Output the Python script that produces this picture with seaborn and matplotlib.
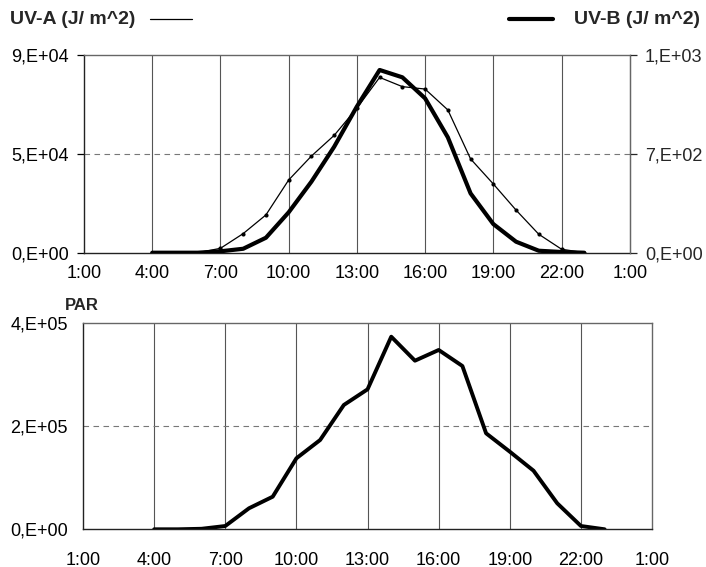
"""
Daily course of UV-A, UV-B and PAR irradiance (hourly sums)
"""
import numpy as np
import pandas as pd
import matplotlib
matplotlib.use('Agg')
import matplotlib.pyplot as plt
from matplotlib.lines import Line2D
import seaborn as sns

sns.set_style('white')
plt.rcParams['font.family'] = ['Liberation Sans', 'DejaVu Sans']

# data (hour of day, hourly values)
hours = [4, 5, 6, 7, 8, 9, 10, 11, 12, 13, 14, 15, 16, 17, 18, 19, 20, 21, 22, 23]
uva = [0, 0, 0, 2000, 8700, 17200, 33100, 44000, 53400, 65800, 79800, 75600,
       74500, 65000, 42700, 31300, 19400, 8400, 1600, 0]
uvb = [0, 0, 0, 10, 28, 106, 286, 503, 750, 1035, 1294, 1242,
       1093, 817, 420, 203, 78, 14, 5, 0]
par = [0, 0, 1000, 6400, 40800, 63300, 137900, 173400, 241400, 271800, 374000, 327400,
       348200, 317100, 186400, 150700, 113800, 50500, 6400, 0]

xticks = [1, 4, 7, 10, 13, 16, 19, 22, 25]
xticklabels = ['1:00', '4:00', '7:00', '10:00', '13:00', '16:00', '19:00', '22:00', '1:00']
uva_ticks = [0, 45000, 90000]
uva_labels = ['0,E+00', '5,E+04', '9,E+04']
uvb_ticks = [0, 700, 1400]
uvb_labels = ['0,E+00', '7,E+02', '1,E+03']
par_ticks = [0, 200000, 400000]
par_labels = ['0,E+00', '2,E+05', '4,E+05']

df = pd.DataFrame({'hour': hours, 'uva': uva, 'uvb': uvb, 'par': par})

fig = plt.figure(figsize=(7.06, 5.67), dpi=100)
ax1 = fig.add_axes([0.119, 0.5543, 0.773, 0.3487])
ax3 = fig.add_axes([0.1176, 0.0665, 0.806, 0.3633])

grid_col = '#555555'
fs = 13


def style_axis(ax, yticks, ylabels, ymax, xpad):
    ax.set_xlim(1, 25)
    ax.set_ylim(0, ymax)
    ax.set_xticks(xticks)
    ax.set_xticklabels(xticklabels)
    ax.set_yticks(yticks)
    ax.set_yticklabels(ylabels)
    for x in xticks[1:-1]:
        ax.axvline(x, color=grid_col, lw=0.8, zorder=0)
    ax.axhline(yticks[1], color='#777777', lw=0.8, ls=(0, (5, 4)), zorder=0)
    ax.tick_params(axis='both', direction='out', length=5, width=0.9,
                   colors='black', labelsize=fs)
    ax.tick_params(axis='x', pad=xpad)
    ax.tick_params(axis='y', pad=6)
    for side in ['left', 'bottom']:
        ax.spines[side].set_color('#222222')
        ax.spines[side].set_linewidth(1.0)
    for side in ['top', 'right']:
        ax.spines[side].set_color('#666666')
        ax.spines[side].set_linewidth(1.0)
    ax.set_xlabel('')
    ax.set_ylabel('')


# top panel: UV-A (left axis) and UV-B (right axis)
sns.lineplot(data=df, x='hour', y='uva', ax=ax1, color='black', lw=0.9,
             marker='o', markersize=3, markeredgewidth=0)
style_axis(ax1, uva_ticks, uva_labels, 90000, 4)

ax2 = ax1.twinx()
sns.lineplot(data=df, x='hour', y='uvb', ax=ax2, color='black', lw=3.0)
ax2.set_ylim(0, 1400)
ax2.set_yticks(uvb_ticks)
ax2.set_yticklabels(uvb_labels)
ax2.set_ylabel('')
ax2.tick_params(axis='y', direction='out', length=5, width=0.9, labelsize=fs, pad=6)
for side in ax2.spines:
    ax2.spines[side].set_visible(False)
ax2.spines['right'].set_visible(True)
ax2.spines['right'].set_color('#666666')

# bottom panel: PAR
sns.lineplot(data=df, x='hour', y='par', ax=ax3, color='black', lw=2.8)
style_axis(ax3, par_ticks, par_labels, 400000, 11)

# headers and line keys
fig.text(10 / 706, 1 - 19 / 567, 'UV-A (J/ m^2)', fontsize=14, fontweight='bold',
         ha='left', va='center')
fig.add_artist(Line2D([150 / 706, 192 / 706], [1 - 19 / 567, 1 - 19 / 567],
                      color='black', lw=0.9))
fig.text(700 / 706, 1 - 19 / 567, 'UV-B (J/ m^2)', fontsize=14, fontweight='bold',
         ha='right', va='center')
fig.add_artist(Line2D([509 / 706, 553 / 706], [1 - 19 / 567, 1 - 19 / 567],
                      color='black', lw=3.0))
fig.text(65 / 706, 1 - 305 / 567, 'PAR', fontsize=12, fontweight='bold',
         ha='left', va='center')

plt.savefig('out.png', dpi=100)
